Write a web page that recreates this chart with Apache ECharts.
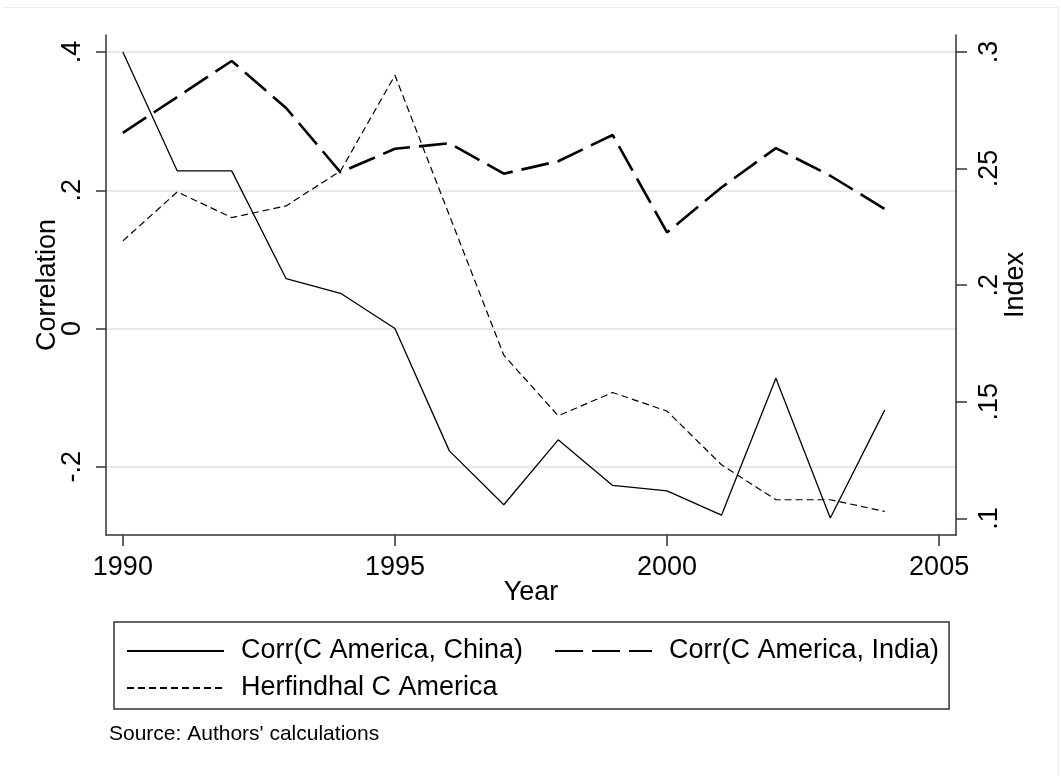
<!DOCTYPE html>
<html>
<head>
<meta charset="utf-8">
<script src="https://cdn.jsdelivr.net/npm/echarts@6/dist/echarts.min.js"></script>
<style>
  html, body { margin: 0; padding: 0; background: #fff; }
  #chart { width: 1061px; height: 776px; }
</style>
</head>
<body>
<div id="chart"></div>
<script>
// Years on the x axis
const years = [1990, 1991, 1992, 1993, 1994, 1995, 1996, 1997, 1998, 1999, 2000, 2001, 2002, 2003, 2004];

// Correlation of Central America with China (left axis)
const corrChina = [0.400, 0.228, 0.228, 0.072, 0.051, 0.000, -0.177, -0.255, -0.161, -0.227, -0.235, -0.270, -0.072, -0.274, -0.118];

// Correlation of Central America with India (left axis)
const corrIndia = [0.283, 0.335, 0.387, 0.319, 0.226, 0.260, 0.268, 0.224, 0.242, 0.280, 0.139, 0.204, 0.261, 0.221, 0.173];

// Herfindahl index for Central America (right axis)
const herfindahl = [0.219, 0.240, 0.229, 0.234, 0.249, 0.290, 0.230, 0.170, 0.144, 0.154, 0.146, 0.123, 0.108, 0.108, 0.103];

// Tick positions
const yearTicks = [1990, 1995, 2000, 2005];
const corrTicks = [-0.2, 0, 0.2, 0.4];
const indexTicks = [0.1, 0.15, 0.2, 0.25, 0.3];

// Series names
const names = ['Corr(C America, China)', 'Corr(C America, India)', 'Herfindhal C America'];

const FONT = '"Liberation Sans", Arial, Helvetica, sans-serif';
const AXIS_COLOR = '#333333';

// Stata-style labels: drop the leading zero (".4", "-.2")
function stataNum(v) {
  if (Math.abs(v) < 1e-9) return '0';
  let s = String(+v.toFixed(4));
  return s.replace(/^0\./, '.').replace(/^-0\./, '-.');
}

const pairs = arr => years.map((y, i) => [y, arr[i]]);

const chart = echarts.init(document.getElementById('chart'), null, { renderer: 'canvas' });

const legendText = { fontFamily: FONT, fontSize: 27, color: '#000', lineHeight: 30, padding: [0, 0, 0, 12] };

const option = {
  animation: false,
  backgroundColor: '#ffffff',
  textStyle: { fontFamily: FONT, color: '#000' },
  grid: { left: 106, right: 105, top: 35, bottom: 241, containLabel: false },
  title: {
    text: "Source: Authors' calculations",
    left: 104,
    top: 719,
    textStyle: { fontFamily: FONT, fontSize: 21, fontWeight: 'normal', color: '#000' }
  },
  // faint outer frame of the graph region (top and right edges)
  graphic: [{
    type: 'polyline',
    silent: true,
    shape: { points: [[3, 7.5], [1058.5, 7.5], [1058.5, 776]] },
    style: { fill: null, stroke: '#ececec', lineWidth: 1 }
  }],
  xAxis: {
    type: 'value',
    min: 1989.69,
    max: 2005.31,
    name: 'Year',
    nameLocation: 'middle',
    nameGap: 44,
    nameMoveOverlap: false,
    nameTextStyle: { fontFamily: FONT, fontSize: 27, color: '#000' },
    axisLine: { show: true, onZero: false, lineStyle: { color: AXIS_COLOR, width: 1.5 } },
    axisTick: { show: true, length: 11, customValues: yearTicks, lineStyle: { color: AXIS_COLOR, width: 1.5 } },
    axisLabel: { customValues: yearTicks, margin: 19, fontSize: 27, fontFamily: FONT, color: '#000', formatter: v => String(v) },
    splitLine: { show: false }
  },
  yAxis: [{
    type: 'value',
    position: 'left',
    min: -0.2987,
    max: 0.4246,
    name: 'Correlation',
    nameLocation: 'middle',
    nameRotate: 90,
    nameGap: 45,
    nameMoveOverlap: false,
    nameTextStyle: { fontFamily: FONT, fontSize: 27, color: '#000' },
    axisLine: { show: true, onZero: false, lineStyle: { color: AXIS_COLOR, width: 1.5 } },
    axisTick: { show: true, length: 10, customValues: corrTicks, lineStyle: { color: AXIS_COLOR, width: 1.5 } },
    axisLabel: { customValues: corrTicks, rotate: 90, margin: 20, fontSize: 27, fontFamily: FONT, color: '#000', formatter: stataNum },
    splitLine: { show: true, lineStyle: { color: '#e8e8e8', width: 2 } }
  }, {
    type: 'value',
    position: 'right',
    min: 0.09288,
    max: 0.30729,
    name: 'Index',
    nameLocation: 'middle',
    nameRotate: 90,
    nameGap: 46,
    nameMoveOverlap: false,
    nameTextStyle: { fontFamily: FONT, fontSize: 27, color: '#000' },
    axisLine: { show: true, onZero: false, lineStyle: { color: AXIS_COLOR, width: 1.5 } },
    axisTick: { show: true, length: 11, customValues: indexTicks, lineStyle: { color: AXIS_COLOR, width: 1.5 } },
    axisLabel: { customValues: indexTicks, rotate: 90, margin: 20, fontSize: 27, fontFamily: FONT, color: '#000', formatter: stataNum },
    splitLine: { show: false }
  }],
  legend: [{
    data: [names[0], names[1]],
    orient: 'horizontal',
    left: 114,
    top: 622,
    itemWidth: 97,
    itemHeight: 12,
    itemGap: 31,
    padding: [14, 10, 43, 12],
    borderColor: '#333333',
    borderWidth: 1.5,
    selectedMode: false,
    itemStyle: { opacity: 0 },
    textStyle: legendText
  }, {
    data: [names[2]],
    orient: 'horizontal',
    left: 114,
    top: 673,
    itemWidth: 97,
    itemHeight: 12,
    padding: [0, 0, 0, 12],
    selectedMode: false,
    itemStyle: { opacity: 0 },
    textStyle: legendText
  }],
  series: [{
    name: names[0],
    type: 'line',
    yAxisIndex: 0,
    data: pairs(corrChina),
    symbol: 'none',
    lineStyle: { color: '#000', width: 1.3, type: 'solid' },
    itemStyle: { color: '#000' },
    z: 4
  }, {
    name: names[1],
    type: 'line',
    yAxisIndex: 0,
    data: pairs(corrIndia),
    symbol: 'none',
    lineStyle: { color: '#000', width: 2.6, type: [28, 9] },
    itemStyle: { color: '#000' },
    z: 3
  }, {
    name: names[2],
    type: 'line',
    yAxisIndex: 1,
    data: pairs(herfindahl),
    symbol: 'none',
    lineStyle: { color: '#000', width: 1.2, type: [7, 4] },
    itemStyle: { color: '#000' },
    z: 2
  }]
};

chart.setOption(option);
</script>
</body>
</html>
